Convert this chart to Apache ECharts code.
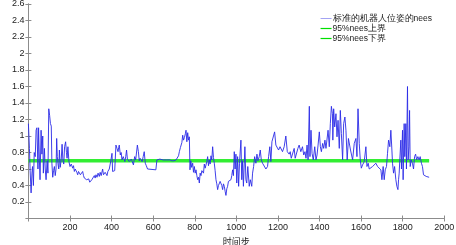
<!DOCTYPE html>
<html>
<head>
<meta charset="utf-8">
<script src="https://cdn.jsdelivr.net/npm/echarts@6/dist/echarts.min.js"></script>
<style>
  html, body { margin: 0; padding: 0; background: #fff; }
  #main { width: 456px; height: 245px; }
</style>
</head>
<body>
<div id="main"></div>
<script>
// time steps and NEES values
var steps = [0,5,8,13,17,20,24,28,33,37,41,46,49,53,56,61,65,69,72,77,81,85,90,94,98,102,106,110,113,117,121,125,129,133,136,139,142,146,149,153,158,162,166,170,174,179,183,186,190,195,
  200,206,213,217,221,225,229,233,237,241,245,250,255,261,265,269,274,280,285,290,295,301,305,309,313,317,321,325,330,335,341,345,350,357,361,365,369,373,378,382,386,389,393,397,402,405,410,415,
  421,426,431,434,437,442,446,450,456,460,464,468,472,476,480,485,490,495,500,505,511,516,520,524,529,533,537,542,547,552,557,562,567,573,580,613,618,622,626,632,640,648,656,664,672,680,690,700,710,718,
  722,726,731,735,738,742,746,750,755,758,762,766,770,774,777,781,785,790,794,798,802,806,810,814,818,822,826,830,834,838,842,846,850,854,858,862,866,870,874,878,882,886,890,894,898,
  902,906,910,914,918,922,926,930,934,938,942,946,950,954,958,962,966,970,974,978,982,986,990,994,998,1002,1006,1011,1015,1022,1026,1030,1034,1041,1046,1050,1055,1062,1067,1074,1078,1083,1088,1094,1099,
  1104,1110,1115,1120,1126,1134,1142,1150,1155,1161,1166,1171,1177,1184,1190,1198,1203,1210,1216,1222,1230,1238,1245,1254,1259,1264,1270,1278,1283,1290,1296,1302,1310,1318,1324,1330,1335,1340,1345,
  1351,1354,1359,1364,1370,1377,1383,1388,1393,1399,1404,1409,1415,1420,1426,1431,1436,1441,1447,1452,1457,1462,1464,1468,1473,1479,1484,1489,1495,1500,1505,1511,1516,1522,1527,1533,1539,1543,1549,1559,
  1567,1575,1580,1585,1591,1596,1601,1607,1615,1623,1628,1634,1639,1647,1655,1663,1671,1679,1687,1695,1700,1706,1711,1716,1722,1727,1732,1738,1743,1748,1751,1756,1761,1767,1772,1777,1780,1783,1786,
  1791,1794,1799,1802,1807,1810,1815,1818,1823,1826,1830,1833,1836,1841,1847,1852,1857,1862,1867,1873,1879,1884,1890,1895,1900,1907,1913,1920,1927];

var nees = [1.15,0.85,0.60,0.31,0.55,0.63,0.40,0.80,0.75,1.07,1.10,0.60,1.10,0.70,0.47,1.07,0.78,1.00,0.55,0.85,0.60,0.47,0.70,0.55,1.33,1.25,1.15,1.12,0.67,0.50,0.58,0.63,0.52,0.60,0.97,0.75,0.67,0.60,0.83,0.62,0.72,0.90,0.70,0.66,0.87,0.93,0.80,0.73,0.87,0.69,
  0.63,0.66,0.61,0.64,0.57,0.60,0.61,0.56,0.53,0.57,0.55,0.53,0.54,0.57,0.52,0.49,0.51,0.47,0.45,0.48,0.44,0.43,0.47,0.49,0.46,0.52,0.49,0.53,0.50,0.55,0.51,0.56,0.52,0.60,0.53,0.51,0.56,0.55,0.52,0.57,0.55,0.60,0.58,0.71,0.79,0.57,0.58,0.58,
  0.89,0.85,0.81,0.86,0.89,0.77,0.80,0.71,0.75,0.72,0.69,0.75,0.83,0.72,0.71,0.69,0.67,0.72,0.70,0.65,0.75,0.71,0.70,0.89,0.81,0.70,0.73,0.71,0.69,0.75,0.81,0.67,0.64,0.60,0.59,0.59,0.71,0.73,0.71,0.72,0.70,0.71,0.70,0.71,0.70,0.71,0.70,0.70,0.71,0.71,
  0.76,0.81,0.86,0.84,0.92,1.01,0.95,0.98,1.03,1.07,0.93,1.04,0.95,0.99,0.59,0.70,0.62,0.67,0.56,0.63,0.55,0.59,0.52,0.47,0.50,0.43,0.55,0.52,0.58,0.60,0.55,0.66,0.61,0.59,0.69,0.75,0.64,0.71,0.66,0.76,0.71,0.87,0.74,0.67,0.58,
  0.47,0.42,0.35,0.40,0.38,0.45,0.47,0.40,0.35,0.42,0.39,0.33,0.28,0.36,0.39,0.45,0.47,0.44,0.47,0.52,0.59,0.52,0.81,0.60,0.78,0.43,0.75,0.39,0.67,0.95,0.47,0.70,0.39,0.87,0.47,0.43,0.63,0.39,0.47,0.39,0.55,0.63,0.75,0.67,0.78,
  0.70,0.75,0.83,0.71,0.67,0.67,0.60,0.63,0.75,0.87,0.69,0.93,0.91,1.05,0.89,0.91,0.83,0.87,0.85,0.81,0.87,1.00,0.81,0.78,0.81,0.73,0.75,0.85,0.73,0.75,0.85,0.89,0.81,0.87,0.77,0.81,0.73,0.89,0.71,
  1.36,0.75,1.07,0.79,0.71,0.87,0.71,0.77,0.89,1.05,0.87,0.81,0.91,0.85,0.95,0.85,0.87,1.07,0.87,1.15,1.36,1.27,0.95,1.33,1.11,1.27,0.99,1.19,0.85,1.31,1.03,0.71,1.15,1.23,1.07,0.71,0.97,0.95,0.83,0.71,
  0.91,0.97,0.75,1.33,0.91,0.71,0.61,0.65,0.69,0.87,0.63,0.67,0.60,0.62,0.63,0.65,0.67,0.63,0.61,0.59,0.47,0.63,0.47,0.59,0.63,0.79,0.95,0.87,1.07,0.83,0.67,0.55,0.63,0.47,0.39,0.35,0.47,0.55,0.71,
  0.95,0.60,1.07,0.47,1.15,0.75,1.15,0.60,1.60,0.71,0.87,1.31,0.63,0.71,0.67,0.60,0.75,0.78,0.71,0.75,0.71,0.75,0.67,0.63,0.53,0.51,0.51,0.50,0.50];

// 95% bounds
var boundSteps = [0, 1927];
var upperBound = [0.71, 0.71];
var lowerBound = [0.69, 0.69];

var xTicks = [0, 2000, 200];
var yTicks = [0, 2.6, 0.2];

function pairs(xs, ys) {
  var out = [];
  for (var i = 0; i < xs.length; i++) out.push([xs[i], ys[i]]);
  return out;
}

var axisGrey = '#8c8c8c';
var font = 'Liberation Sans, Arial, sans-serif';

var chart = echarts.init(document.getElementById('main'));
chart.setOption({
  animation: false,
  grid: { left: 28.4, right: 11.7, top: 4, bottom: 26.5, containLabel: false, outerBoundsMode: 'none' },
  legend: {
    orient: 'vertical',
    right: 19,
    top: 9,
    itemGap: 1,
    itemWidth: 11,
    itemHeight: 9,
    textStyle: { fontSize: 8.5, color: '#222', fontFamily: font, padding: [0, 0, 0, -4] },
    data: [
      { name: '标准的机器人位姿的nees', icon: 'path://M0,4.5L11,4.5L11,5.3L0,5.3Z', itemStyle: { color: '#8c8cf0' } },
      { name: '95%nees上界', icon: 'path://M0,4.3L11,4.3L11,5.5L0,5.5Z', itemStyle: { color: '#00e000' } },
      { name: '95%nees下界', icon: 'path://M0,4.3L11,4.3L11,5.5L0,5.5Z', itemStyle: { color: '#00e000' } }
    ]
  },
  xAxis: [{
    type: 'value', min: xTicks[0], max: xTicks[1], interval: xTicks[2],
    name: '时间步', nameLocation: 'middle', nameGap: 15,
    nameTextStyle: { fontSize: 9, color: '#222', fontFamily: 'Noto Sans CJK SC' },
    axisLine: { lineStyle: { color: axisGrey } },
    axisTick: { inside: true, length: 3, lineStyle: { color: axisGrey } },
    axisLabel: { showMinLabel: false, fontSize: 9, color: '#222', fontFamily: font, margin: 5,
      formatter: function (v) { return String(v); } },
    splitLine: { show: false }
  }, {
    type: 'value', position: 'top', min: xTicks[0], max: xTicks[1], interval: xTicks[2],
    axisLine: { lineStyle: { color: axisGrey } },
    axisTick: { inside: true, length: 3, lineStyle: { color: axisGrey } },
    axisLabel: { show: false }, splitLine: { show: false }
  }],
  yAxis: [{
    type: 'value', min: yTicks[0], max: yTicks[1], interval: yTicks[2],
    name: 'NEES', nameLocation: 'middle', nameGap: 19, nameRotate: 90,
    nameTextStyle: { fontSize: 9, color: '#222', fontFamily: font },
    axisLine: { show: true, lineStyle: { color: axisGrey } },
    axisTick: { show: true, inside: true, length: 3, lineStyle: { color: axisGrey } },
    axisLabel: { showMinLabel: false, fontSize: 9, color: '#222', fontFamily: font, margin: 4,
      formatter: function (v) { return String(Math.round(v * 10) / 10); } },
    splitLine: { show: false }
  }, {
    type: 'value', position: 'right', min: yTicks[0], max: yTicks[1], interval: yTicks[2],
    axisLine: { show: true, lineStyle: { color: axisGrey } },
    axisTick: { show: true, inside: true, length: 3, lineStyle: { color: axisGrey } },
    axisLabel: { show: false }, splitLine: { show: false }
  }],
  series: [{
    name: '95%nees上界', type: 'line', showSymbol: false, z: 2,
    data: pairs(boundSteps, upperBound),
    lineStyle: { color: '#33ee33', width: 2 }, itemStyle: { color: '#00e000' }
  }, {
    name: '95%nees下界', type: 'line', showSymbol: false, z: 2,
    data: pairs(boundSteps, lowerBound),
    lineStyle: { color: '#33ee33', width: 2 }, itemStyle: { color: '#00e000' }
  }, {
    name: '标准的机器人位姿的nees', type: 'line', showSymbol: false, z: 3,
    data: pairs(steps, nees),
    lineStyle: { color: '#2a2ae6', width: 0.9 }, itemStyle: { color: '#8c8cf0' }
  }]
});
</script>
</body>
</html>
